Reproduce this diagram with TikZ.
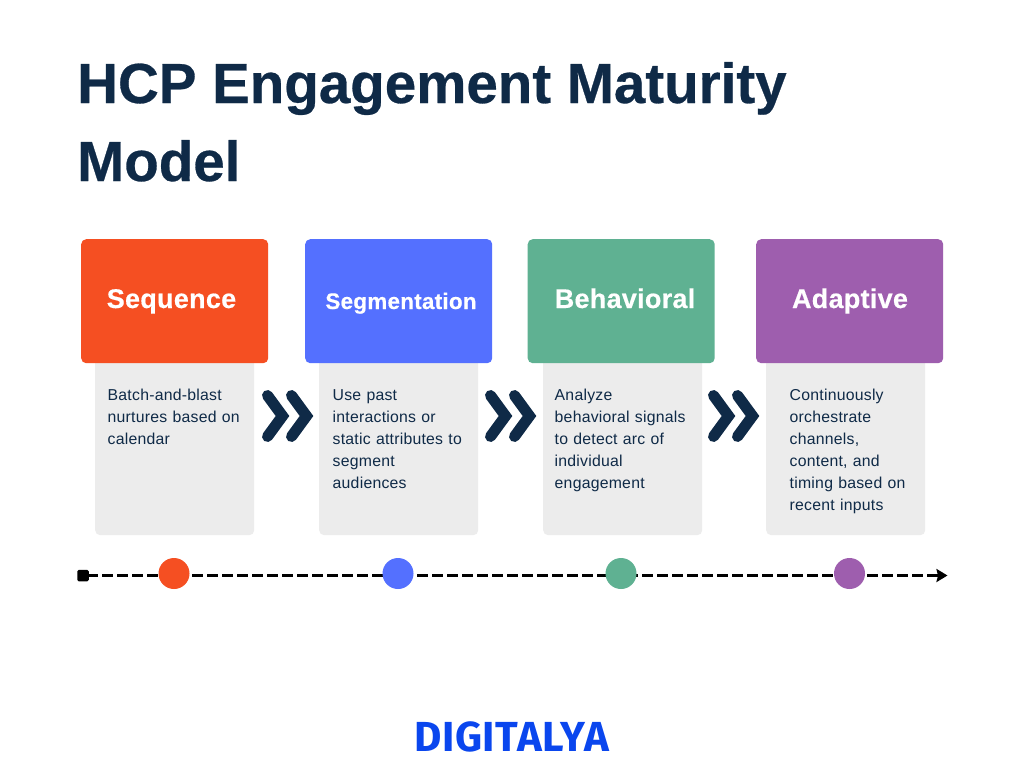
\documentclass[tikz,border=0pt]{standalone}
\usepackage{fontspec}
\setmainfont[LetterSpace=1.5]{Liberation Sans}
\newfontfamily\titlefont[BoldFeatures={FakeBold=0.5}]{Liberation Sans}
\newfontfamily\headfont[LetterSpace=1,BoldFeatures={FakeBold=0.4}]{Liberation Sans}
\newfontfamily\logofont[LetterSpace=1.5]{Fira Sans}
\definecolor{navy}{HTML}{0F2A47}
\definecolor{cA}{HTML}{F54F22}
\definecolor{cB}{HTML}{5470FF}
\definecolor{cC}{HTML}{5FB192}
\definecolor{cD}{HTML}{9E5EAE}
\definecolor{panel}{HTML}{ECECEC}
\definecolor{logoblue}{HTML}{0A46EE}
\usetikzlibrary{arrows.meta}
\tikzset{
 x=1pt,y=-1pt,
 titletext/.style={text=navy,font=\titlefont\fontsize{56.5}{78}\selectfont\bfseries,anchor=base west,inner sep=0pt},
 head/.style={draw=none,rounded corners=5pt,minimum width=187pt,minimum height=124pt,inner sep=0pt,anchor=north west},
 panelbox/.style={draw=none,fill=panel,rounded corners=5pt,minimum width=159pt,minimum height=185pt,inner sep=0pt,anchor=north west},
 headtext/.style={text=white,font=\headfont\fontsize{27}{30}\selectfont\bfseries,inner sep=0pt,anchor=base},
 segtext/.style={headtext,font=\headfont\fontsize{22.5}{27}\selectfont\bfseries},
 bodytext/.style={text=navy,font=\fontsize{15.8}{22}\selectfont,align=left,anchor=north west,inner sep=0pt,text width=150pt},
 dot/.style={circle,minimum size=31pt,inner sep=0pt,draw=none},
 chev/.style={draw=navy,line width=11pt,line cap=round,line join=miter},
 timeline/.style={draw=black,line width=3.2pt,dash pattern=on 11pt off 4pt,dash phase=11pt},
}
\begin{document}
\begin{tikzpicture}
\useasboundingbox[fill=white] (0,0) rectangle (1024,768);
\node[titletext] (t1) at (77,103) {HCP Engagement Maturity};
\node[titletext] (t2) at (77,181) {Model};
% panels
\node[panelbox] (p1) at (95,350) {};
\node[panelbox] (p2) at (319,350) {};
\node[panelbox] (p3) at (543,350) {};
\node[panelbox] (p4) at (766,350) {};
% headers
\node[head,fill=cA] (h1) at (81,239) {};
\node[head,fill=cB] (h2) at (305,239) {};
\node[head,fill=cC] (h3) at (527.5,239) {};
\node[head,fill=cD] (h4) at (756,239) {};
\node[headtext] (l1) at (171.5,308) {Sequence};
\node[segtext] (l2) at (401,309) {Segmentation};
\node[headtext] (l3) at (625,308) {Behavioral};
\node[headtext] (l4) at (850,308) {Adaptive};
% body
\node[bodytext] (b1) at (107.5,388.5) {Batch-and-blast\\nurtures based on\\calendar};
\node[bodytext] (b2) at (332.5,389.5) {Use past\\interactions or\\static attributes to\\segment\\audiences};
\node[bodytext] (b3) at (554.5,388.5) {Analyze\\behavioral signals\\to detect arc of\\individual\\engagement};
\node[bodytext] (b4) at (789.5,388.5) {Continuously\\orchestrate\\channels,\\content, and\\timing based on\\recent inputs};
% chevrons
\foreach \x in {267.5,291.5,490.5,514.5,713.5,737.5}{
 \draw[chev] (\x,395.5) -- (\x+15,416) -- (\x,436.5);
}
% timeline
\node[fill=black,rounded corners=1.5pt,minimum size=11.5pt,inner sep=0pt] (s) at (83,575.5) {};
\coordinate (e) at (947.5,575.5);
\draw[timeline,-{Stealth[length=11pt,width=13pt,inset=1.5pt]}] (s.center) -- (e);
\node[dot,fill=cA] (d1) at (174,573.5) {};
\node[dot,fill=cB] (d2) at (398,573.5) {};
\node[dot,fill=cC] (d3) at (621,573.5) {};
\node[dot,fill=cD] (d4) at (849.5,573.5) {};
% logo
\node[text=logoblue,font=\logofont\fontsize{42}{42}\selectfont\bfseries,inner sep=0pt] (logo) at (511.5,737) {DIGITALYA};
\end{tikzpicture}
\end{document}
